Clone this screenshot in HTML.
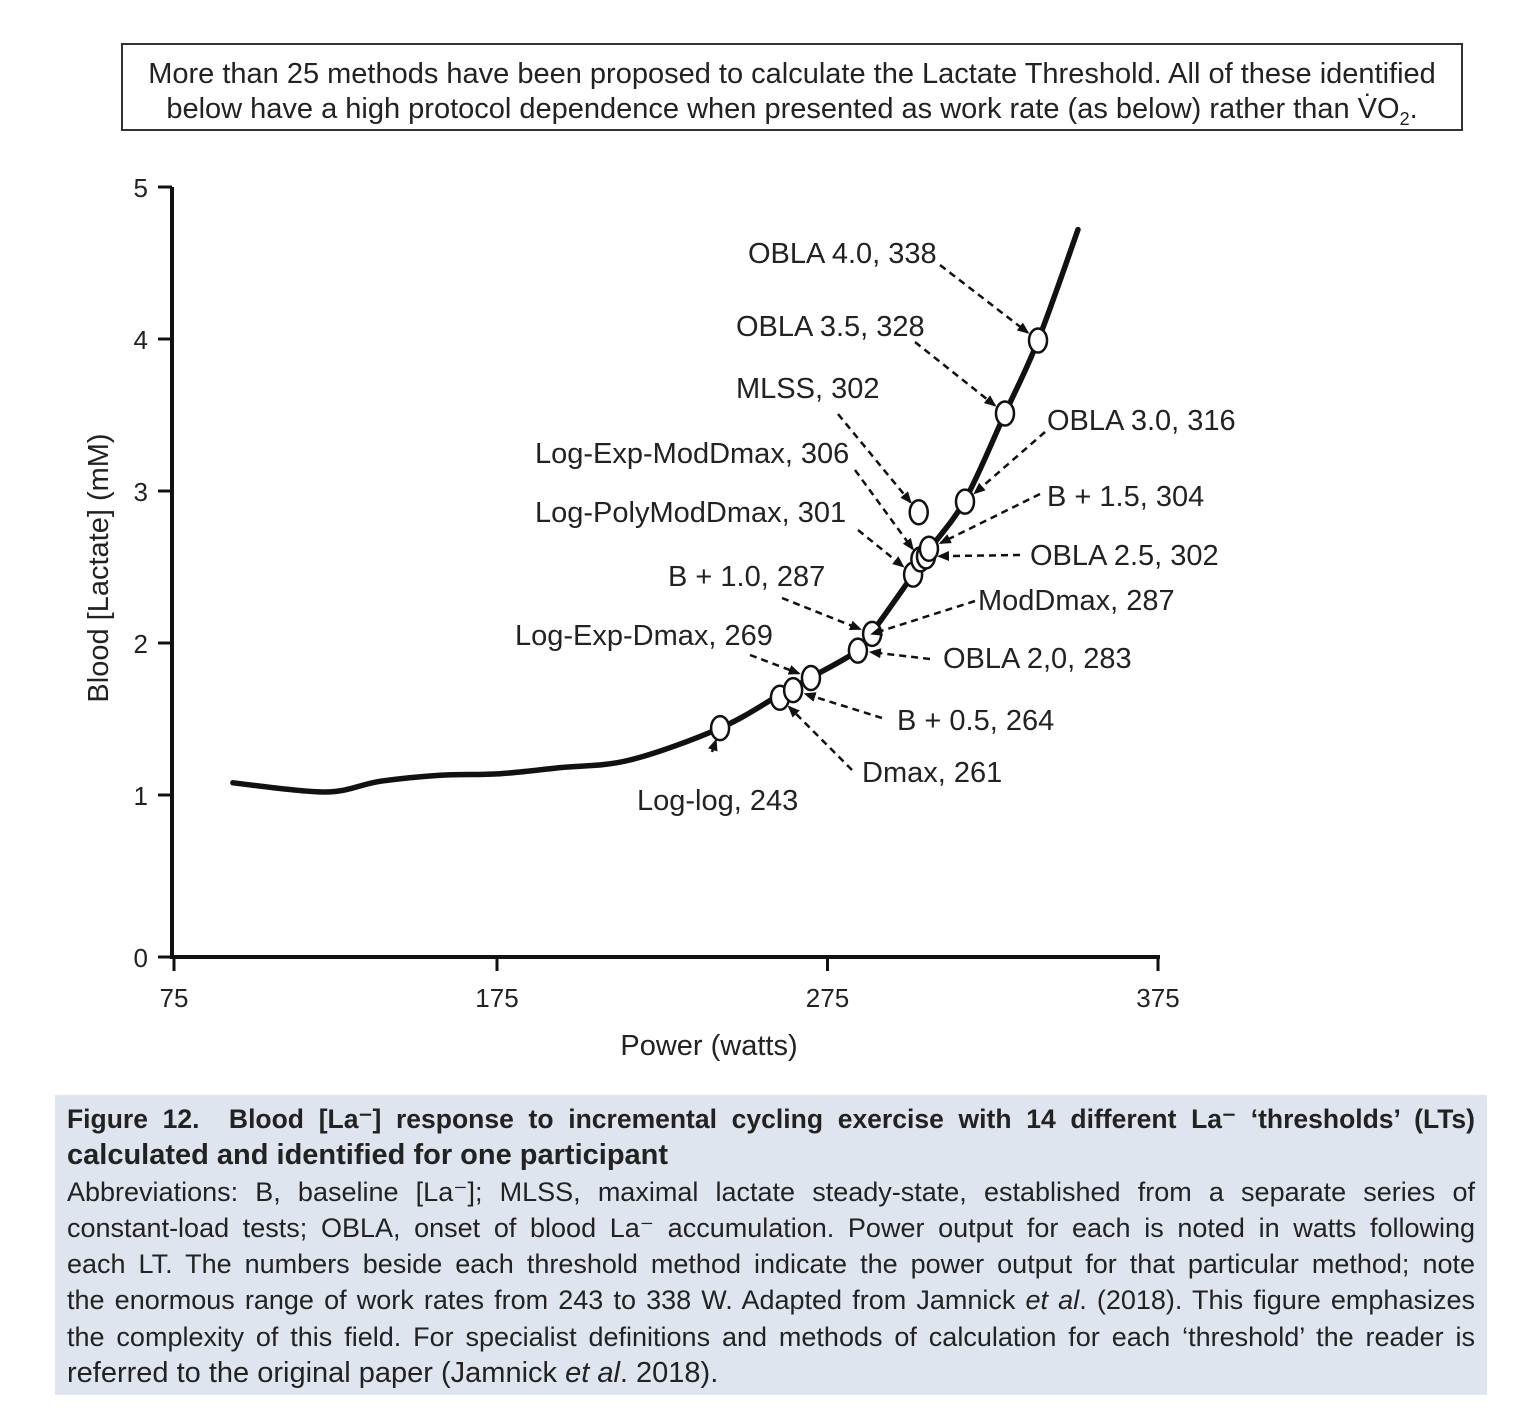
<!DOCTYPE html>
<html><head><meta charset="utf-8">
<style>
body{margin:0;background:#fff;width:1532px;height:1420px;position:relative;font-family:"Liberation Sans",sans-serif;overflow:hidden}
#topbox{position:absolute;left:121px;top:43px;width:1342px;height:88px;border:2px solid #333;box-sizing:border-box;text-align:center;font-size:29px;line-height:35px;padding-top:12px;color:#222;white-space:nowrap}
#cap{position:absolute;left:55px;top:1095px;width:1432px;height:300px;background:#dfe5ee;box-sizing:border-box;padding:6px 12px 0 12px;color:#222}
.ln{text-align:justify;text-align-last:justify;white-space:nowrap;font-size:27px;line-height:36.3px;height:36.3px;overflow:visible}
.b{font-weight:bold}
.last{text-align-last:left}
svg{position:absolute;left:0;top:0}
</style></head><body>
<div id="topbox">More than 25 methods have been proposed to calculate the Lactate Threshold. All of these identified<br>below have a high protocol dependence when presented as work rate (as below) rather than V̇O<sub style="font-size:18px">2</sub>.</div>
<svg id="chart" width="1532" height="1080"></svg>
<div id="cap">
<div class="ln b" style="font-size:26.5px">Figure 12.&nbsp; Blood [La⁻] response to incremental cycling exercise with 14 different La⁻ ‘thresholds’ (LTs)</div>
<div class="ln b last" style="font-size:29px">calculated and identified for one participant</div>
<div class="ln">Abbreviations: B, baseline [La⁻]; MLSS, maximal lactate steady-state, established from a separate series of</div>
<div class="ln">constant-load tests; OBLA, onset of blood La⁻ accumulation. Power output for each is noted in watts following</div>
<div class="ln">each LT. The numbers beside each threshold method indicate the power output for that particular method; note</div>
<div class="ln">the enormous range of work rates from 243 to 338 W. Adapted from Jamnick <i>et al</i>. (2018). This figure emphasizes</div>
<div class="ln">the complexity of this field. For specialist definitions and methods of calculation for each ‘threshold’ the reader is</div>
<div class="ln last" style="font-size:29px">referred to the original paper (Jamnick <i>et al</i>. 2018).</div>
</div>
<script>
const curveX=[95.1,123.0,139.6,157.8,175.9,194.1,215.2,242.5,260.6,269.7,284.2,288.5,300.9,306.0,316.6,328.7,338.7,350.8];
const curveY=[1.08,1.02,1.09,1.13,1.14,1.18,1.23,1.44,1.66,1.77,1.95,2.07,2.45,2.62,2.94,3.51,3.99,4.72];
const xTicks=[75,175,275,375];
const yTicks=[0,1,2,3,4,5];
const markerLabels=["Log-log, 243","Dmax, 261","B + 0.5, 264","Log-Exp-Dmax, 269","OBLA 2,0, 283","B + 1.0, 287","ModDmax, 287","Log-PolyModDmax, 301","Log-Exp-ModDmax, 306","MLSS, 302","OBLA 2.5, 302","B + 1.5, 304","OBLA 3.0, 316","OBLA 3.5, 328","OBLA 4.0, 338"];
const markerX=[242.5,260.6,264.6,270.0,284.2,288.5,288.5,300.9,303.1,302.6,304.8,305.7,316.6,328.7,338.7];
const markerY=[1.44,1.64,1.69,1.77,1.95,2.06,2.06,2.45,2.55,2.86,2.57,2.62,2.93,3.51,3.99];
// label layout (pixels): text anchor and arrow tail
const labelPos=[[637,810,712,752],[862,782,852,770],[897,730,882,718],[515,645,750,655],[943,668,930,659],[668,586,782,598],[978,610,975,601],[535,522,858,530],[535,463,855,470],[736,398,838,414],[1030,565,1020,555],[1047,506,1040,494],[1047,430,1045,432],[736,336,915,342],[748,263,940,265]];
const drawMarker=[1,1,1,1,1,1,0,1,1,1,1,1,1,1,1];

const NS="http://www.w3.org/2000/svg";
const svg=document.getElementById('chart');
const X=v=>497+(v-175)*3.305;
const Y=v=>v===0?957:947-152*v;
function mk(t,a,p){const e=document.createElementNS(NS,t);for(const k in a)e.setAttribute(k,a[k]);(p||svg).appendChild(e);return e;}
const defs=mk('defs',{});
const m=mk('marker',{id:'ah',markerWidth:'12',markerHeight:'10',refX:'10',refY:'5',orient:'auto',markerUnits:'userSpaceOnUse'},defs);
mk('path',{d:'M0,0 L12,5 L0,10 z',fill:'#111'},m);
let ax=mk('path',{d:`M172,187 L172,957 L1160,957`,fill:'none',stroke:'#111','stroke-width':4});


yTicks.forEach(v=>{
  const y=Y(v);
  const tk=mk('line',{x1:158,x2:172,y1:y,y2:y,stroke:'#111','stroke-width':3});
  
  
  const t=mk('text',{x:148,y:y+10,'text-anchor':'end','font-size':26,fill:'#222'});t.textContent=v;
  
  
});
xTicks.forEach(v=>{
  const x=v===75?174:X(v);
  const tk=mk('line',{x1:x,x2:x,y1:957,y2:971,stroke:'#111','stroke-width':3});
  
  
  const t=mk('text',{x:x,y:1007,'text-anchor':'middle','font-size':26,fill:'#222'});t.textContent=v;
  
  
});
let xt=mk('text',{x:709,y:1055,'text-anchor':'middle','font-size':29,fill:'#222'});xt.textContent='Power (watts)';


let yt=mk('text',{x:0,y:0,'text-anchor':'middle','font-size':29,fill:'#222',transform:'translate(108,568) rotate(-90)'});yt.textContent='Blood [Lactate] (mM)';


// smooth curve (Catmull-Rom)
const P=curveX.map((v,i)=>[X(v),Y(curveY[i])]);
let d='M'+P[0][0].toFixed(1)+','+P[0][1].toFixed(1);
for(let i=0;i<P.length-1;i++){
  const p0=P[Math.max(0,i-1)],p1=P[i],p2=P[i+1],p3=P[Math.min(P.length-1,i+2)];
  const c1=[p1[0]+(p2[0]-p0[0])/6,p1[1]+(p2[1]-p0[1])/6],c2=[p2[0]-(p3[0]-p1[0])/6,p2[1]-(p3[1]-p1[1])/6];
  d+=` C${c1[0].toFixed(1)},${c1[1].toFixed(1)} ${c2[0].toFixed(1)},${c2[1].toFixed(1)} ${p2[0].toFixed(1)},${p2[1].toFixed(1)}`;
}
let cv=mk('path',{d:d,fill:'none',stroke:'#111','stroke-width':5.5,'stroke-linejoin':'round','stroke-linecap':'round'});


markerX.forEach((v,i)=>{
  if(!drawMarker[i])return;
  const e=mk('ellipse',{cx:X(v),cy:Y(markerY[i]),rx:9,ry:12,fill:'#fff',stroke:'#111','stroke-width':2.5});
  
  
});
markerLabels.forEach((s,i)=>{
  const p=labelPos[i];
  const t=mk('text',{x:p[0],y:p[1],'font-size':29,fill:'#222'});t.textContent=s;
  
  
  const tx=X(markerX[i]),ty=Y(markerY[i]);
  const dx=tx-p[2],dy=ty-p[3],L=Math.hypot(dx,dy),off=i===6?0:13;
  const a=mk('line',{x1:p[2],y1:p[3],x2:tx-dx/L*off,y2:ty-dy/L*off,stroke:'#111','stroke-width':2.5,'stroke-dasharray':'7,5','marker-end':'url(#ah)'});
  
  
});
</script>
</body></html>
